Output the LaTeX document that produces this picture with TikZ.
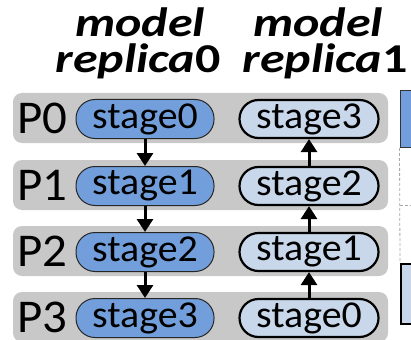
\documentclass[tikz,border=0pt]{standalone}
\usepackage{fontspec}
\newfontfamily\plabfont[FakeStretch=1.04]{Carlito}
\newfontfamily\stagefont[FakeStretch=1.05]{Carlito}
\newfontfamily\headfont[FakeStretch=1.22]{Carlito}
\usetikzlibrary{arrows.meta}
\definecolor{rowgray}{HTML}{C8C8C8}
\definecolor{darkblue}{HTML}{729FDB}
\definecolor{paleblue}{HTML}{C9D7EA}
\definecolor{dashgray}{HTML}{A8A8A8}
\tikzset{
  rowbox/.style={fill=rowgray, draw=none, rounded corners=9pt, minimum width=375pt, minimum height=50pt, inner sep=0pt},
  fwdstage/.style={draw=black!85, line width=1pt, fill=darkblue, rounded corners=19pt, minimum width=138pt, minimum height=39pt, inner sep=0pt, font=\stagefont\fontsize{38}{38}\selectfont},
  bwdstage/.style={draw=black, line width=2.2pt, fill=paleblue, rounded corners=19pt, minimum width=139pt, minimum height=38pt, inner sep=0pt, font=\stagefont\fontsize{38}{38}\selectfont},
  plab/.style={anchor=west, inner sep=0pt, font=\plabfont\fontsize{47}{47}\selectfont},
  headline/.style={inner sep=0pt, anchor=base, font=\headfont\fontsize{41}{41}\selectfont\bfseries},
  flow/.style={line width=3pt, -{Triangle[width=16pt,length=13pt]}},
}
\begin{document}
\begin{tikzpicture}[x=1pt, y=-1pt]
  \useasboundingbox (0,0) rectangle (411,339);

  % column headings
  \node[headline] (h0a) at (140,37) {\itshape model};
  \node[headline] (h0b) at (138,73) {\itshape replica\upshape 0};
  \node[headline] (h1a) at (318,37) {\itshape model};
  \node[headline] (h1b) at (325,73) {\itshape replica\upshape 1};

  % one grey band per pipeline rank
  \foreach \r/\y in {0/118, 1/185, 2/251, 3/317} {
    \node[rowbox] (row\r) at (200.5,\y) {};
    \node[plab] (p\r) at (17,\y) {P\r};
  }

  % stages of replica 0 (top to bottom) and replica 1 (bottom to top)
  \node[fwdstage] (a0) at (145,119) {stage0};
  \node[fwdstage] (a1) at (145,186) {stage1};
  \node[fwdstage] (a2) at (145,252) {stage2};
  \node[fwdstage] (a3) at (145,318) {stage3};
  \node[bwdstage] (b3) at (309,119) {stage3};
  \node[bwdstage] (b2) at (309,186) {stage2};
  \node[bwdstage] (b1) at (309,252) {stage1};
  \node[bwdstage] (b0) at (309,318) {stage0};

  \draw[flow] (a0) -- (a1);
  \draw[flow] (a1) -- (a2);
  \draw[flow] (a2) -- (a3);
  \draw[flow] (b0) -- (b1);
  \draw[flow] (b1) -- (b2);
  \draw[flow] (b2) -- (b3);

  % timeline boxes at the right edge
  \node[draw=black!80, line width=0.8pt, fill=darkblue, minimum width=30pt, minimum height=57pt, anchor=north west, inner sep=0pt] (t0) at (399.5,90) {};
  \node[draw=black, line width=2pt, fill=paleblue, minimum width=30pt, minimum height=60pt, anchor=north west, inner sep=0pt] (t1) at (400,263) {};
  \coordinate (dv) at (399.5,205);
  \coordinate (dh) at (412,205);
  \draw[dashgray, dashed, line width=0.8pt, dash pattern=on 3pt off 2pt] (t0.south west) -- (t1.north west);
  \draw[dashgray, dashed, line width=0.8pt, dash pattern=on 3pt off 2pt] (dv) -- (dh);
\end{tikzpicture}
\end{document}
